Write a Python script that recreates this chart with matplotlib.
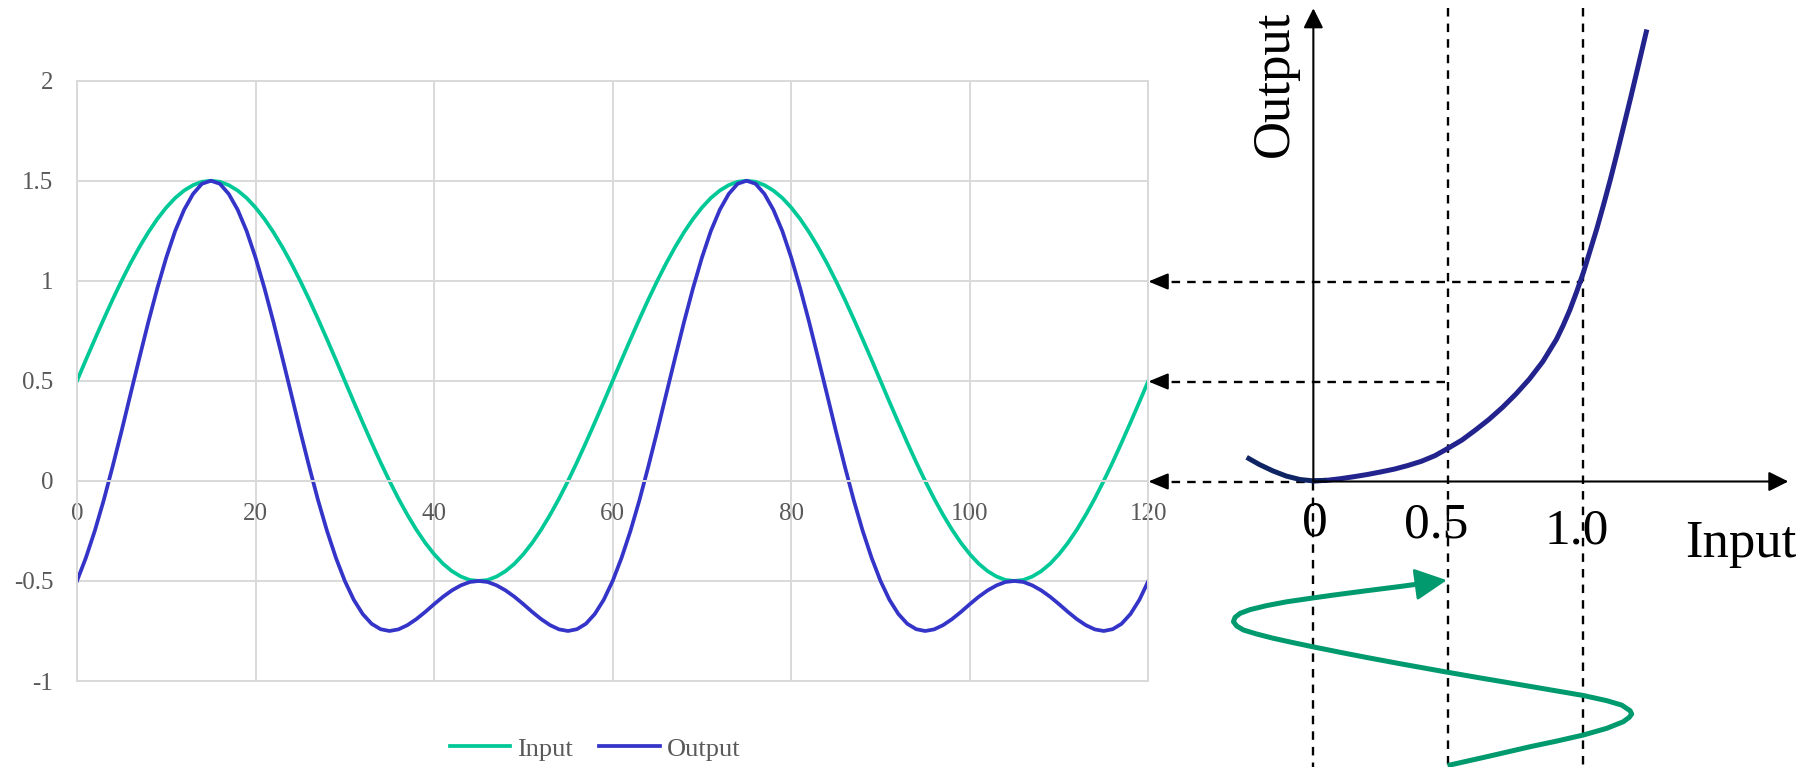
import matplotlib.pyplot as plt

plt.rcParams["font.family"] = ["Liberation Serif", "DejaVu Serif"]
plt.rcParams["axes.unicode_minus"] = False

# left chart: sample index vs. signal
time_step = list(range(0, 121))
input_signal = [
    0.5, 0.605, 0.708, 0.809, 0.907, 1.0, 1.088, 1.169, 1.243, 1.309, 1.366, 1.414, 1.451, 1.478, 1.495, 1.5,
    1.495, 1.478, 1.451, 1.414, 1.366, 1.309, 1.243, 1.169, 1.088, 1.0, 0.907, 0.809, 0.708, 0.605, 0.5,
    0.395, 0.292, 0.191, 0.093, 0.0, -0.088, -0.169, -0.243, -0.309, -0.366, -0.414, -0.451, -0.478, -0.495, -0.5,
    -0.495, -0.478, -0.451, -0.414, -0.366, -0.309, -0.243, -0.169, -0.088, 0.0, 0.093, 0.191, 0.292, 0.395, 0.5,
    0.605, 0.708, 0.809, 0.907, 1.0, 1.088, 1.169, 1.243, 1.309, 1.366, 1.414, 1.451, 1.478, 1.495, 1.5,
    1.495, 1.478, 1.451, 1.414, 1.366, 1.309, 1.243, 1.169, 1.088, 1.0, 0.907, 0.809, 0.708, 0.605, 0.5,
    0.395, 0.292, 0.191, 0.093, 0.0, -0.088, -0.169, -0.243, -0.309, -0.366, -0.414, -0.451, -0.478, -0.495, -0.5,
    -0.495, -0.478, -0.451, -0.414, -0.366, -0.309, -0.243, -0.169, -0.088, 0.0, 0.093, 0.191, 0.292, 0.395, 0.5,
]
output_signal = [
    -0.5, -0.384, -0.249, -0.096, 0.073, 0.25, 0.434, 0.616, 0.795, 0.963, 1.116, 1.249, 1.355, 1.434, 1.485, 1.5,
    1.485, 1.434, 1.355, 1.249, 1.116, 0.963, 0.795, 0.616, 0.434, 0.25, 0.073, -0.096, -0.249, -0.384, -0.5,
    -0.594, -0.665, -0.714, -0.741, -0.75, -0.742, -0.721, -0.691, -0.655, -0.616, -0.579, -0.547, -0.522, -0.505, -0.5,
    -0.505, -0.522, -0.547, -0.579, -0.616, -0.655, -0.691, -0.721, -0.742, -0.75, -0.741, -0.714, -0.665, -0.594, -0.5,
    -0.384, -0.249, -0.096, 0.073, 0.25, 0.434, 0.616, 0.795, 0.963, 1.116, 1.249, 1.355, 1.434, 1.485, 1.5,
    1.485, 1.434, 1.355, 1.249, 1.116, 0.963, 0.795, 0.616, 0.434, 0.25, 0.073, -0.096, -0.249, -0.384, -0.5,
    -0.594, -0.665, -0.714, -0.741, -0.75, -0.742, -0.721, -0.691, -0.655, -0.616, -0.579, -0.547, -0.522, -0.505, -0.5,
    -0.505, -0.522, -0.547, -0.579, -0.616, -0.655, -0.691, -0.721, -0.742, -0.75, -0.741, -0.714, -0.665, -0.594, -0.5,
]
x_ticks = [0, 20, 40, 60, 80, 100, 120]
y_ticks = [-1, -0.5, 0, 0.5, 1, 1.5, 2]
y_tick_labels = ["-1", "-0.5", "0", "0.5", "1", "1.5", "2"]

# right diagram: transfer curve (input -> output)
curve_in = [-0.247, -0.2, -0.15, -0.1, -0.05, 0.0, 0.05, 0.1, 0.15, 0.2, 0.25, 0.3, 0.35, 0.4, 0.45,
            0.5, 0.55, 0.6, 0.65, 0.7, 0.75, 0.8, 0.85, 0.9, 0.925, 0.95, 0.975, 1.0, 1.025, 1.05,
            1.075, 1.1, 1.125, 1.15, 1.175, 1.2, 1.235]
curve_out = [0.121, 0.085, 0.053, 0.027, 0.010, 0.003, 0.006, 0.014, 0.024, 0.035, 0.048, 0.062, 0.080,
             0.101, 0.129, 0.167, 0.207, 0.257, 0.310, 0.370, 0.437, 0.512, 0.600, 0.710, 0.780, 0.858,
             0.948, 1.045, 1.155, 1.265, 1.385, 1.510, 1.643, 1.780, 1.918, 2.060, 2.260]

# input wave drawn under the input axis (input value, position below axis), bottom to arrow tip
wave_in = [0.506, 0.654, 0.803, 0.901, 1.0, 1.087, 1.148, 1.170, 1.179, 1.173, 1.142, 1.087, 1.0,
           0.840, 0.679, 0.617, 0.494, 0.321, 0.198, 0.099, 0.0, -0.074, -0.148, -0.210, -0.259,
           -0.284, -0.296, -0.290, -0.271, -0.234, -0.173, -0.099, 0.0, 0.074, 0.198, 0.321, 0.395, 0.494]
wave_pos = [-1.4175, -1.3725, -1.326, -1.298, -1.2675, -1.234, -1.201, -1.179, -1.1625, -1.146, -1.118,
            -1.096, -1.070, -1.033, -0.996, -0.982, -0.953, -0.911, -0.880, -0.854, -0.827, -0.806, -0.784,
            -0.7625, -0.7425, -0.7225, -0.701, -0.679, -0.659, -0.6405, -0.6205, -0.6015, -0.582, -0.568,
            -0.546, -0.525, -0.5115, -0.4935]

level_in = [0.0, 0.5, 1.0]
level_out = [0.0, 0.5, 1.0]
input_tick_labels = ["0", "0.5", "1.0"]

grid_c = "#d9d9d9"
text_c = "#595959"

fig = plt.figure(figsize=(18.11, 7.67), dpi=100)

# ---- Excel-like time chart
ax = fig.add_axes([0.0425, 0.1121, 0.5916, 0.7827])
ax.plot(time_step, input_signal, color="#00c896", lw=2.7, label="Input")
ax.plot(time_step, output_signal, color="#3434c8", lw=2.7, label="Output")
ax.set_xlim(0, 120)
ax.set_ylim(-1, 2)
ax.set_xticks(x_ticks)
ax.set_yticks(y_ticks)
ax.set_yticklabels(y_tick_labels)
ax.grid(True, color=grid_c, lw=1.4)
ax.set_axisbelow(True)
for s in ["top", "right", "left", "bottom"]:
    ax.spines[s].set_color(grid_c)
    ax.spines[s].set_linewidth(1.4)
ax.spines["bottom"].set_position(("data", 0))
ax.axhline(-1, color=grid_c, lw=1.4, clip_on=False, zorder=0)
ax.tick_params(length=0, labelsize=18, labelcolor=text_c)
ax.tick_params(axis="x", pad=16)
ax.tick_params(axis="y", pad=17)
ax.legend(loc="center", bbox_to_anchor=(0.3285, 0.0235), bbox_transform=fig.transFigure,
          ncol=2, frameon=False, fontsize=19, handlelength=2.3, handletextpad=0.25,
          columnspacing=1.0, labelcolor=text_c)

# ---- transfer-curve diagram on top
dg = fig.add_axes([0, 0, 1, 1], facecolor="none")
dg.set_xlim(-4.864, 1.843)
dg.set_ylim(-1.4275, 2.4075)
dg.axis("off")

dash = (0, (3.6, 3.0))
chart_edge = -0.611
top_y = 2.366
bottom_y = -1.43


def head(x0, y0, x1, y1, hl, hw, color="black", lw=1.5):
    dg.annotate("", xy=(x1, y1), xytext=(x0, y0),
                arrowprops=dict(arrowstyle=f"-|>,head_length={hl},head_width={hw}",
                                color=color, lw=lw, shrinkA=0, shrinkB=0, mutation_scale=10))


# dashed guides
for xin in level_in:
    start = 0.0 if xin == 0 else top_y
    dg.plot([xin, xin], [start, bottom_y], color="black", lw=1.7, ls=dash)
for xin, yout in zip(level_in, level_out):
    dg.plot([chart_edge + 0.03, xin], [yout, yout], color="black", lw=1.7, ls=dash)
    head(chart_edge + 0.063, yout, chart_edge, yout, 1.2, 0.5)

# axes with arrows
head(0, 0, 0, top_y, 1.2, 0.6)
head(0, 0, 1.759, 0, 1.2, 0.6)

# transfer curve
dg.plot(curve_in[5:], curve_out[5:], color="#23238e", lw=3.6, solid_capstyle="butt")
dg.plot(curve_in[:7], curve_out[:7], color="#0f2462", lw=3.6, solid_capstyle="butt")

# input wave with arrow
green = "#009a6e"
dg.plot(wave_in[:-1], wave_pos[:-1], color=green, lw=3.6, solid_joinstyle="round")
head(wave_in[-3], wave_pos[-3], wave_in[-1], wave_pos[-1], 2.0, 1.0, color=green, lw=2.0)

# labels
dg.text(-0.142, 1.986, "Output", rotation=90, ha="center", va="center", fontsize=38)
tick_x = [0.006, 0.454, 0.976]
tick_y = [-0.2675, -0.2825, -0.3075]
for tx, ty, lab in zip(tick_x, tick_y, input_tick_labels):
    dg.text(tx, ty, lab, ha="center", va="baseline", fontsize=37)
dg.text(1.584, -0.376, "Input", ha="center", va="baseline", fontsize=38)

fig.savefig("out.png", dpi=100)
